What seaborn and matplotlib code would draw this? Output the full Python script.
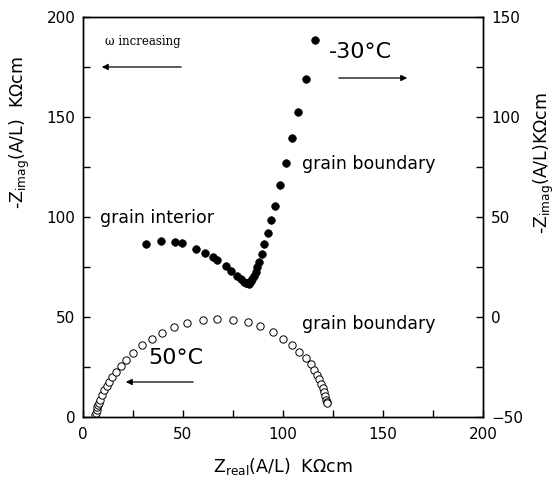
import numpy as np
import pandas as pd
import matplotlib
matplotlib.use("Agg")
import matplotlib.pyplot as plt
from matplotlib.ticker import MultipleLocator
import seaborn as sns

# -30°C data (filled)
cold_x = [31.5, 39.2, 45.8, 49.5, 56.7, 61.2, 65.2, 66.8, 71.3, 73.8, 76.8, 79.0,
          80.5, 81.5, 82.2, 83.0, 83.5, 84.2, 84.7, 85.5, 86.3, 87.2, 88.0, 89.3,
          90.7, 92.5, 94.0, 96.0, 98.5, 101.3, 104.3, 107.5, 111.5, 116.2]
cold_y = [86.5, 87.8, 87.7, 87.2, 84.2, 81.8, 79.8, 78.5, 75.5, 73.2, 70.5, 68.8,
          67.7, 67.0, 66.8, 66.7, 67.3, 68.0, 68.8, 70.5, 72.7, 75.2, 77.3, 81.3,
          86.5, 92.0, 98.5, 105.7, 115.8, 126.8, 139.7, 152.5, 169.2, 188.3]

# 50°C data (open)
hot_x = [6.0, 6.3, 6.8, 7.2, 7.7, 8.1, 8.5, 9.3, 10.5, 11.8, 13.2, 14.7, 16.5, 18.8,
         21.5, 25.2, 29.5, 34.3, 39.3, 45.7, 52.2, 59.8, 67.2, 74.8, 82.3, 88.7,
         95.0, 100.0, 104.5, 108.2, 111.5, 114.0, 115.7, 117.2, 118.2, 119.2, 120.0,
         120.7, 121.2, 121.5, 121.8, 122.0]
hot_y = [1.0, 2.2, 3.5, 4.8, 6.0, 7.2, 8.5, 11.0, 13.5, 15.5, 17.7, 20.2, 22.7, 25.5,
         28.5, 32.2, 35.8, 39.2, 41.8, 44.8, 47.0, 48.3, 48.8, 48.7, 47.3, 45.3,
         42.3, 39.2, 36.0, 32.7, 29.3, 26.5, 23.7, 21.0, 18.8, 16.5, 14.3,
         12.3, 10.3, 8.5, 7.7, 7.2]

x_ticks = [0, 50, 100, 150, 200]
left_ticks = [0, 50, 100, 150, 200]
right_ticks = [-50, 0, 50, 100, 150]

sns.set_theme(style="ticks")
plt.rcParams['font.family'] = ['DejaVu Sans']
plt.rcParams['mathtext.fontset'] = 'dejavusans'
plt.rcParams['text.color'] = 'black'
plt.rcParams['axes.labelcolor'] = 'black'

fig = plt.figure(figsize=(5.58, 4.83), dpi=100)
ax = fig.add_axes([83/558, 1-417/483, 400/558, 400/483])

cold = pd.DataFrame({"x": cold_x, "y": cold_y})
hot = pd.DataFrame({"x": hot_x, "y": hot_y})

sns.scatterplot(data=hot, x="x", y="y", ax=ax, marker="o", s=28,
                facecolor="white", edgecolor="black", linewidth=0.7, zorder=3)
sns.scatterplot(data=cold, x="x", y="y", ax=ax, marker="o", s=30,
                color="black", edgecolor="black", linewidth=0.5, zorder=4)

ax.set_xlim(0, 200)
ax.set_ylim(0, 200)
ax.set_xticks(x_ticks)
ax.set_yticks(left_ticks)
ax.xaxis.set_minor_locator(MultipleLocator(25))
ax.yaxis.set_minor_locator(MultipleLocator(25))
ax.tick_params(which='both', direction='in', length=5, width=1, colors='black',
               labelsize=11, top=False, right=False)
ax.tick_params(axis='x', which='both', pad=7)
ax.tick_params(axis='y', which='both', pad=5.5)
for sp in ax.spines.values():
    sp.set_visible(True)
    sp.set_linewidth(1)
    sp.set_color('black')

ax.set_xlabel(r'Z$_{\rm real}$(A/L)  K$\Omega$cm', fontsize=12.5, labelpad=10)
ax.set_ylabel(r'-Z$_{\rm imag}$(A/L)  K$\Omega$cm', fontsize=12.5, labelpad=5)
ax.yaxis.set_label_coords(-0.128, 0.71)

ax2 = ax.twinx()
ax2.set_ylim(-50, 150)
ax2.set_yticks(right_ticks)
ax2.yaxis.set_minor_locator(MultipleLocator(25))
ax2.tick_params(which='both', direction='in', length=5, width=1, colors='black',
                labelsize=11, pad=6)
for sp in ax2.spines.values():
    sp.set_linewidth(1)
    sp.set_color('black')
ax2.set_ylabel(r'-Z$_{\rm imag}$(A/L)K$\Omega$cm', fontsize=12.5)
ax2.yaxis.set_label_coords(1.122, 0.635)

# annotations
ax.text(11, 187.5, r'ω increasing', fontsize=8.5, family=['DejaVu Serif', 'Liberation Serif'],
        va='center', ha='left')
ax.annotate('', xy=(8, 175), xytext=(50.5, 175),
            arrowprops=dict(arrowstyle='-|>', color='black', lw=0.9, mutation_scale=9))
ax.text(123, 182.5, '-30°C', fontsize=16, va='center', ha='left')
ax.annotate('', xy=(163.5, 169.5), xytext=(126.5, 169.5),
            arrowprops=dict(arrowstyle='-|>', color='black', lw=0.9, mutation_scale=9))
ax.text(109.5, 126.5, 'grain boundary', fontsize=12.5, va='center', ha='left')
ax.text(8.5, 99.5, 'grain interior', fontsize=12.5, va='center', ha='left')
ax.text(109.5, 46.5, 'grain boundary', fontsize=12.5, va='center', ha='left')
ax.text(32.5, 29.5, '50°C', fontsize=16, va='center', ha='left')
ax.annotate('', xy=(20, 17.5), xytext=(56.5, 17.5),
            arrowprops=dict(arrowstyle='-|>', color='black', lw=0.9, mutation_scale=9))

fig.savefig('out.png', dpi=100)
